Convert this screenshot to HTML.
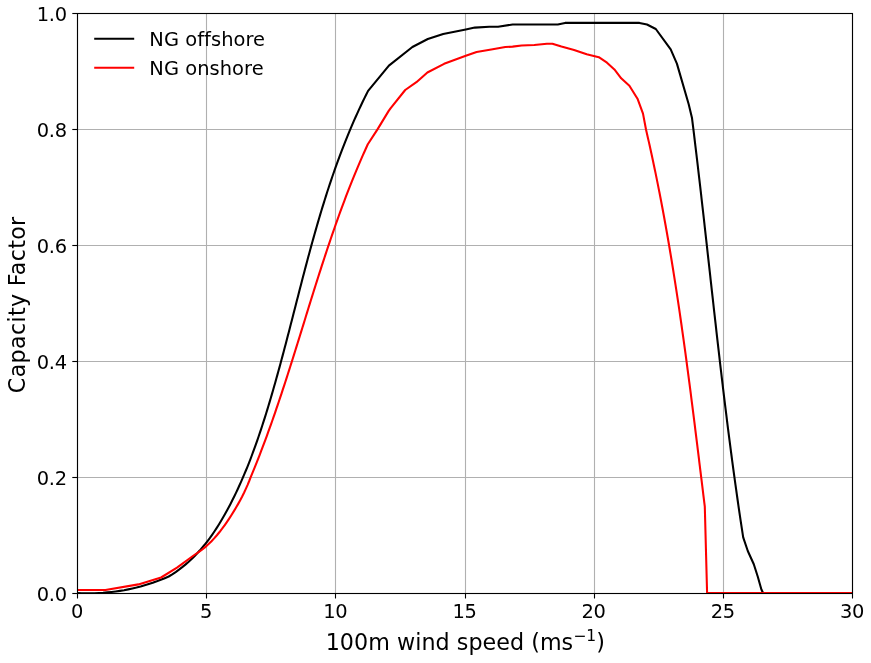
<!DOCTYPE html>
<html><head><meta charset="utf-8"><title>Capacity Factor</title>
<style>
html,body{margin:0;padding:0;background:#fff;}
svg{display:block;}
text{font-family:"DejaVu Sans","Liberation Sans",sans-serif;fill:#000;}
</style></head><body>
<svg width="871" height="663" viewBox="0 0 871 663">
<rect width="871" height="663" fill="#fff"/>
<defs><clipPath id="ax"><rect x="77.5" y="13.5" width="775" height="580"/></clipPath></defs>

<g stroke="#b0b0b0" stroke-width="1.11" fill="none">
<line x1="77.50" y1="13.5" x2="77.50" y2="593.5"/>
<line x1="206.50" y1="13.5" x2="206.50" y2="593.5"/>
<line x1="335.50" y1="13.5" x2="335.50" y2="593.5"/>
<line x1="465.50" y1="13.5" x2="465.50" y2="593.5"/>
<line x1="594.50" y1="13.5" x2="594.50" y2="593.5"/>
<line x1="723.50" y1="13.5" x2="723.50" y2="593.5"/>
<line x1="852.50" y1="13.5" x2="852.50" y2="593.5"/>
<line x1="77.5" y1="593.50" x2="852.5" y2="593.50"/>
<line x1="77.5" y1="477.50" x2="852.5" y2="477.50"/>
<line x1="77.5" y1="361.50" x2="852.5" y2="361.50"/>
<line x1="77.5" y1="245.50" x2="852.5" y2="245.50"/>
<line x1="77.5" y1="129.50" x2="852.5" y2="129.50"/>
<line x1="77.5" y1="13.50" x2="852.5" y2="13.50"/>
</g>
<g stroke="#000" stroke-width="1.11" fill="none">
<line x1="77.50" y1="593.5" x2="77.50" y2="598.50"/>
<line x1="206.50" y1="593.5" x2="206.50" y2="598.50"/>
<line x1="335.50" y1="593.5" x2="335.50" y2="598.50"/>
<line x1="465.50" y1="593.5" x2="465.50" y2="598.50"/>
<line x1="594.50" y1="593.5" x2="594.50" y2="598.50"/>
<line x1="723.50" y1="593.5" x2="723.50" y2="598.50"/>
<line x1="852.50" y1="593.5" x2="852.50" y2="598.50"/>
<line x1="77.5" y1="593.50" x2="72.30" y2="593.50"/>
<line x1="77.5" y1="477.50" x2="72.30" y2="477.50"/>
<line x1="77.5" y1="361.50" x2="72.30" y2="361.50"/>
<line x1="77.5" y1="245.50" x2="72.30" y2="245.50"/>
<line x1="77.5" y1="129.50" x2="72.30" y2="129.50"/>
<line x1="77.5" y1="13.50" x2="72.30" y2="13.50"/>
</g>
<g clip-path="url(#ax)" fill="none" stroke-width="2.08" stroke-linejoin="round" stroke-linecap="butt">
<polyline stroke="#000" points="77.50,593.00 81.78,593.17 86.06,593.26 90.33,593.27 94.59,593.18 98.84,593.01 103.08,592.76 107.31,592.41 111.53,591.98 115.73,591.46 119.92,590.85 124.09,590.16 128.24,589.37 132.38,588.49 136.50,587.53 140.61,586.47 144.69,585.32 148.75,584.08 152.79,582.75 156.80,581.33 160.79,579.81 164.76,578.20 168.70,576.50 172.24,574.32 175.67,572.03 179.00,569.65 182.23,567.17 185.37,564.61 188.41,561.96 191.37,559.22 194.23,556.41 197.02,553.52 199.72,550.56 202.34,547.53 204.89,544.44 207.36,541.29 209.77,538.08 212.10,534.82 214.38,531.51 216.59,528.15 218.74,524.75 220.84,521.31 222.89,517.84 224.89,514.34 226.84,510.80 228.74,507.25 230.61,503.67 232.44,500.08 234.23,496.47 235.98,492.84 237.70,489.19 239.38,485.53 241.03,481.86 242.64,478.17 244.23,474.46 245.78,470.75 247.31,467.02 248.80,463.27 250.27,459.52 251.71,455.75 253.12,451.97 254.51,448.19 255.87,444.39 257.21,440.58 258.53,436.76 259.83,432.94 261.11,429.11 262.37,425.27 263.61,421.42 264.83,417.57 266.04,413.71 267.23,409.85 268.40,405.98 269.57,402.10 270.72,398.23 271.85,394.35 272.98,390.46 274.09,386.58 275.20,382.69 276.29,378.79 277.38,374.90 278.45,371.00 279.52,367.10 280.58,363.19 281.63,359.29 282.68,355.38 283.72,351.47 284.75,347.56 285.78,343.65 286.80,339.74 287.82,335.82 288.84,331.91 289.85,327.99 290.86,324.07 291.86,320.16 292.87,316.24 293.87,312.32 294.87,308.41 295.88,304.49 296.88,300.57 297.89,296.66 298.89,292.74 299.90,288.83 300.91,284.92 301.92,281.00 302.94,277.09 303.96,273.19 304.99,269.28 306.02,265.38 307.06,261.47 308.10,257.57 309.15,253.68 310.21,249.78 311.27,245.89 312.34,242.00 313.43,238.11 314.52,234.23 315.62,230.35 316.73,226.48 317.85,222.61 318.99,218.74 320.13,214.88 321.29,211.02 322.46,207.17 323.65,203.32 324.85,199.47 326.06,195.63 327.29,191.80 328.53,187.97 329.79,184.15 331.07,180.33 332.37,176.52 333.68,172.72 335.01,168.92 336.36,165.12 337.73,161.34 339.12,157.56 340.52,153.79 341.95,150.02 343.41,146.27 344.88,142.52 346.37,138.77 347.89,135.04 349.43,131.31 351.00,127.60 352.59,123.89 354.21,120.18 355.85,116.49 357.52,112.81 359.21,109.13 360.93,105.47 362.68,101.81 364.46,98.16 366.26,94.53 368.10,90.90 388.90,65.60 412.40,47.00 427.80,39.00 443.20,33.90 465.80,29.40 474.80,27.60 489.30,26.70 498.10,26.70 512.60,24.50 557.80,24.50 565.00,22.90 639.50,22.90 647.00,24.50 655.80,29.00 670.70,49.40 676.90,63.60 688.70,104.30 692.00,118.10 692.50,122.13 693.00,126.16 693.50,130.19 693.99,134.22 694.48,138.25 694.97,142.29 695.45,146.32 695.94,150.35 696.42,154.39 696.90,158.42 697.37,162.45 697.85,166.49 698.32,170.52 698.79,174.56 699.26,178.59 699.73,182.63 700.20,186.66 700.66,190.70 701.12,194.73 701.58,198.77 702.04,202.81 702.50,206.84 702.96,210.88 703.42,214.92 703.87,218.96 704.32,222.99 704.78,227.03 705.23,231.07 705.68,235.11 706.13,239.14 706.58,243.18 707.03,247.22 707.48,251.26 707.93,255.30 708.38,259.33 708.83,263.37 709.28,267.41 709.73,271.45 710.18,275.49 710.63,279.53 711.08,283.56 711.52,287.60 711.97,291.64 712.42,295.68 712.88,299.72 713.33,303.75 713.78,307.79 714.23,311.83 714.69,315.87 715.14,319.90 715.60,323.94 716.05,327.98 716.51,332.02 716.97,336.05 717.43,340.09 717.89,344.13 718.35,348.16 718.82,352.20 719.28,356.23 719.75,360.27 720.22,364.31 720.69,368.34 721.17,372.37 721.64,376.41 722.12,380.44 722.60,384.48 723.08,388.51 723.57,392.54 724.05,396.58 724.54,400.61 725.03,404.64 725.53,408.67 726.03,412.70 726.53,416.73 727.03,420.76 727.53,424.79 728.04,428.82 728.55,432.85 729.07,436.88 729.59,440.91 730.11,444.94 730.63,448.96 731.16,452.99 731.69,457.01 732.23,461.04 732.77,465.06 733.31,469.09 733.86,473.11 734.41,477.14 734.96,481.16 735.52,485.18 736.09,489.20 736.65,493.22 737.23,497.24 737.80,501.26 738.38,505.28 738.97,509.30 739.56,513.31 740.15,517.33 740.75,521.35 741.36,525.36 741.97,529.37 742.58,533.39 743.20,537.40 747.80,551.00 753.80,564.20 757.80,576.80 761.40,589.50 763.10,593.00 852.50,593.00"/>
<polyline stroke="#f00" points="77.50,590.00 105.40,590.00 138.40,584.40 161.10,577.50 177.00,567.60 195.00,554.50 198.56,552.21 201.96,549.74 205.20,547.12 208.31,544.34 211.28,541.43 214.14,538.40 216.89,535.25 219.54,532.01 222.10,528.68 224.58,525.28 227.00,521.82 229.35,518.31 231.66,514.76 233.90,511.17 236.07,507.54 238.18,503.87 240.21,500.18 242.17,496.45 244.04,492.69 245.82,488.90 247.51,485.09 249.11,481.25 250.60,477.40 252.16,473.64 253.70,469.88 255.23,466.12 256.74,462.34 258.23,458.56 259.71,454.78 261.17,450.99 262.61,447.19 264.04,443.39 265.46,439.58 266.86,435.77 268.25,431.95 269.63,428.13 270.99,424.31 272.35,420.48 273.69,416.64 275.02,412.80 276.33,408.96 277.64,405.12 278.94,401.27 280.23,397.42 281.51,393.56 282.78,389.70 284.05,385.84 285.31,381.98 286.56,378.11 287.80,374.25 289.04,370.38 290.27,366.50 291.50,362.63 292.72,358.75 293.94,354.88 295.15,351.00 296.36,347.12 297.57,343.24 298.78,339.36 299.98,335.48 301.18,331.59 302.38,327.71 303.59,323.83 304.79,319.95 305.99,316.06 307.19,312.18 308.39,308.30 309.60,304.42 310.80,300.54 312.01,296.66 313.23,292.79 314.44,288.91 315.66,285.03 316.89,281.16 318.12,277.29 319.35,273.42 320.59,269.56 321.84,265.69 323.09,261.83 324.36,257.97 325.62,254.12 326.90,250.26 328.19,246.41 329.48,242.57 330.78,238.72 332.10,234.89 333.42,231.05 334.76,227.22 336.10,223.39 337.46,219.57 338.83,215.75 340.22,211.94 341.61,208.13 343.02,204.33 344.45,200.53 345.88,196.74 347.34,192.95 348.81,189.17 350.29,185.39 351.79,181.62 353.31,177.86 354.84,174.10 356.40,170.35 357.97,166.61 359.56,162.87 361.17,159.14 362.79,155.42 364.44,151.71 366.11,148.00 367.80,144.30 377.80,128.90 388.70,110.90 390.70,108.10 405.20,90.00 416.40,82.20 427.40,72.50 444.10,63.80 465.80,55.70 476.60,52.00 492.70,49.30 505.30,47.00 512.60,46.60 521.60,45.50 534.30,45.00 546.90,43.70 552.40,43.70 561.40,46.60 574.10,49.90 586.70,54.20 598.80,57.20 607.00,62.70 614.40,69.40 621.20,78.30 629.40,85.70 637.50,98.70 643.00,113.60 646.00,129.50 646.92,133.46 647.82,137.42 648.72,141.38 649.61,145.35 650.48,149.31 651.35,153.28 652.21,157.25 653.06,161.23 653.90,165.20 654.73,169.17 655.56,173.15 656.37,177.13 657.18,181.11 657.98,185.09 658.77,189.08 659.55,193.06 660.32,197.05 661.09,201.04 661.85,205.03 662.60,209.02 663.34,213.01 664.08,217.00 664.80,221.00 665.53,224.99 666.24,228.99 666.95,232.99 667.65,236.99 668.34,240.99 669.03,245.00 669.71,249.00 670.38,253.00 671.05,257.01 671.71,261.02 672.36,265.03 673.01,269.04 673.65,273.05 674.29,277.06 674.92,281.07 675.55,285.09 676.17,289.10 676.78,293.12 677.39,297.13 678.00,301.15 678.60,305.17 679.20,309.19 679.79,313.21 680.37,317.23 680.95,321.25 681.53,325.27 682.10,329.29 682.67,333.32 683.24,337.34 683.80,341.37 684.35,345.39 684.91,349.42 685.46,353.44 686.00,357.47 686.55,361.50 687.08,365.52 687.62,369.55 688.15,373.58 688.68,377.61 689.21,381.64 689.74,385.67 690.26,389.70 690.78,393.73 691.30,397.76 691.81,401.79 692.33,405.82 692.84,409.85 693.35,413.89 693.85,417.92 694.36,421.95 694.86,425.98 695.37,430.01 695.87,434.05 696.37,438.08 696.87,442.11 697.37,446.14 697.86,450.17 698.36,454.21 698.86,458.24 699.35,462.27 699.85,466.30 700.34,470.33 700.84,474.36 701.33,478.39 701.83,482.42 702.32,486.45 702.81,490.48 703.31,494.51 703.81,498.54 704.30,502.57 704.80,506.60 707.10,593.00 852.50,593.00"/>
</g>
<rect x="77.5" y="13.5" width="775" height="580" fill="none" stroke="#000" stroke-width="1.11"/>
<g font-size="19.44px" letter-spacing="-0.37">
<text x="76.90" y="617.9" text-anchor="middle">0</text>
<text x="206.07" y="617.9" text-anchor="middle">5</text>
<text x="335.23" y="617.9" text-anchor="middle">10</text>
<text x="464.40" y="617.9" text-anchor="middle">15</text>
<text x="593.57" y="617.9" text-anchor="middle">20</text>
<text x="722.73" y="617.9" text-anchor="middle">25</text>
<text x="851.90" y="617.9" text-anchor="middle">30</text>
<text x="66.65" y="600.80" text-anchor="end">0.0</text>
<text x="66.65" y="484.80" text-anchor="end">0.2</text>
<text x="66.65" y="368.80" text-anchor="end">0.4</text>
<text x="66.65" y="252.80" text-anchor="end">0.6</text>
<text x="66.65" y="136.80" text-anchor="end">0.8</text>
<text x="66.65" y="20.80" text-anchor="end">1.0</text>
</g>
<text x="465.3" y="649.6" font-size="22.22px" letter-spacing="0.04" text-anchor="middle">100m wind speed (ms<tspan font-size="15.55px" dy="-8.7">−1</tspan><tspan dy="8.7">)</tspan></text>
<text transform="translate(25,304.8) rotate(-90)" font-size="22.22px" letter-spacing="0.3" text-anchor="middle">Capacity Factor</text>
<g fill="none" stroke-width="2.08">
<line x1="94.2" y1="38.8" x2="134.2" y2="38.8" stroke="#000"/>
<line x1="94.2" y1="67.8" x2="134.2" y2="67.8" stroke="#f00"/>
</g>
<g font-size="19.44px" letter-spacing="0.05">
<text x="149.3" y="45.5">NG offshore</text>
<text x="149.3" y="74.5">NG onshore</text>
</g>
</svg>
</body></html>
